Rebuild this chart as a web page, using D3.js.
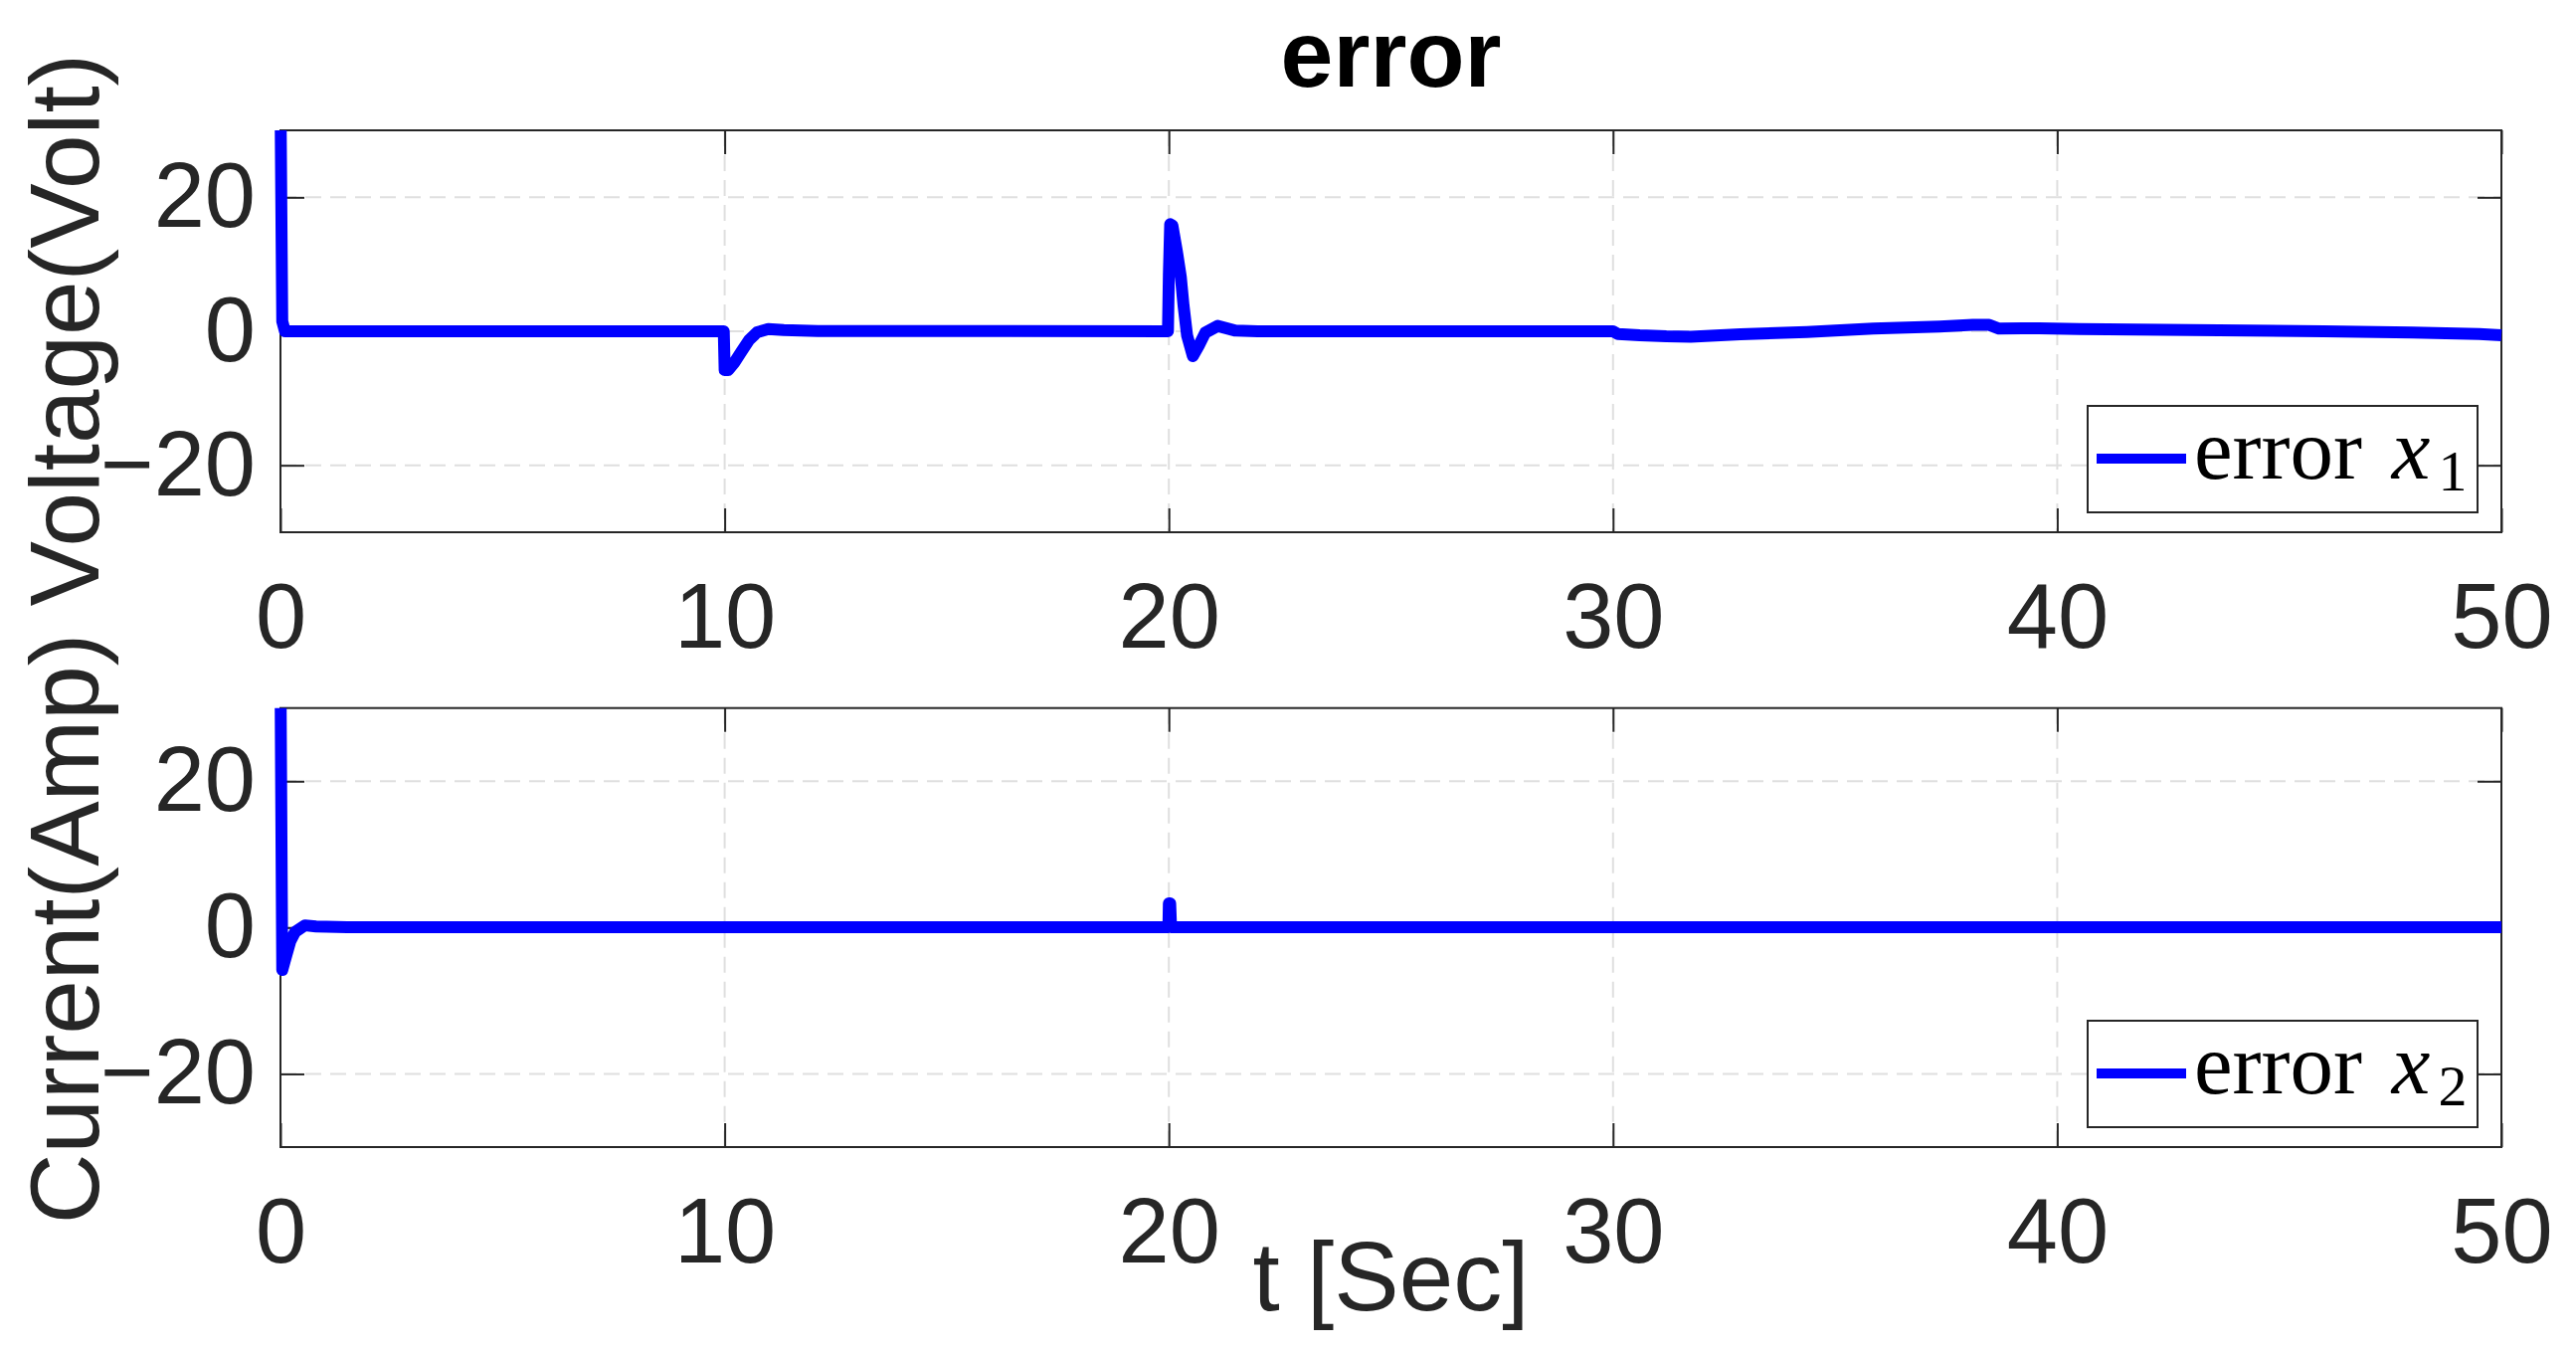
<!DOCTYPE html>
<html>
<head>
<meta charset="utf-8">
<script src="https://cdn.jsdelivr.net/npm/d3@7"></script>
<style>
  body { margin: 0; background: #fff; }
  svg { display: block; }
</style>
</head>
<body>
<div id="chart"></div>
<script>
const w = 2590;
const h = 1361;

// tick values
const xTicks = [0, 10, 20, 30, 40, 50];
const yTicks = [-20, 0, 20];

// error x1 (Volt)
const timeX1 = [0, 0.04, 0.1, 9.98, 10.0, 10.08, 10.21, 10.38, 10.55, 10.73, 10.98, 11.33, 12.1,
  19.98, 20.0, 20.03, 20.08, 20.18, 20.27, 20.33, 20.41, 20.54, 20.67, 20.82, 21.1, 21.5, 22,
  30, 30.11, 30.6, 31.2, 31.75, 32.87, 34.36, 35.86, 37.35, 38.1, 38.47, 38.69, 39.59,
  40.5, 43, 46, 48, 49.5, 50];
const errorX1 = [35, 1.5, 0, 0, -5.8, -5.8, -4.75, -3.0, -1.3, -0.15, 0.35, 0.2, 0.05,
  0, 8.4, 16.0, 15.8, 12.0, 8.1, 3.9, -0.6, -3.7, -2.2, -0.2, 0.8, 0.1, 0,
  0, -0.4, -0.6, -0.75, -0.8, -0.45, -0.1, 0.4, 0.7, 0.95, 0.95, 0.4, 0.45,
  0.35, 0.2, 0, -0.2, -0.4, -0.6];

// error x2 (Amp)
const timeX2 = [0, 0.04, 0.1, 0.22, 0.33, 0.55, 0.8, 1.5, 19.99, 20.0, 20.03, 20.05, 50];
const errorX2 = [35, -5.8, -4.5, -1.9, -0.6, 0.3, 0.15, 0.05, 0.05, 3.3, 3.3, 0.05, 0.05];

const series = [
  {t: timeX1, v: errorX1, sub: '1'},
  {t: timeX2, v: errorX2, sub: '2'}
];

// layout of the two axes
const left = 282, right = 2515;
const panels = [
  {top: 131, bottom: 535},
  {top: 711.7, bottom: 1153}
];

const axisColor = '#262626';
const gridColor = '#dfdfdf';

const svg = d3.select('#chart')
  .append('svg')
  .attr('width', w)
  .attr('height', h)
  .style('background-color', 'white');

const xScale = d3.scaleLinear().domain([0, 50]).range([left, right]);

panels.forEach((p, i) => {
  const s = series[i];
  const yScale = d3.scaleLinear().domain([-30, 30]).range([p.bottom, p.top]);
  const g = svg.append('g');

  // grid
  g.selectAll('.xgrid')
    .data(xTicks)
    .enter()
    .append('line')
    .attr('x1', d => xScale(d))
    .attr('x2', d => xScale(d))
    .attr('y1', p.top)
    .attr('y2', p.bottom)
    .attr('stroke', gridColor)
    .attr('stroke-width', 2)
    .attr('stroke-dasharray', '16,9');
  g.selectAll('.ygrid')
    .data(yTicks)
    .enter()
    .append('line')
    .attr('x1', left)
    .attr('x2', right)
    .attr('y1', d => yScale(d))
    .attr('y2', d => yScale(d))
    .attr('stroke', gridColor)
    .attr('stroke-width', 2)
    .attr('stroke-dasharray', '16,9');

  // axes (ticks inside, box)
  const styleAxis = sel => {
    sel.attr('font-family', null).attr('font-size', null);
    sel.select('.domain').remove();
    sel.selectAll('line').attr('stroke', axisColor).attr('stroke-width', 2);
    sel.selectAll('text')
      .attr('fill', axisColor)
      .style('font-family', '"Liberation Sans", Arial, sans-serif')
      .style('font-size', '92px');
  };
  g.append('g')
    .attr('transform', `translate(0, ${p.bottom})`)
    .call(d3.axisBottom(xScale).tickValues(xTicks).tickSize(-24).tickPadding(51).tickFormat(d3.format('d')))
    .call(styleAxis);
  g.append('g')
    .attr('transform', `translate(0, ${p.top})`)
    .call(d3.axisTop(xScale).tickValues(xTicks).tickSize(-24).tickFormat(''))
    .call(styleAxis);
  g.append('g')
    .attr('transform', `translate(${left}, 0)`)
    .call(d3.axisLeft(yScale).tickValues(yTicks).tickSize(-24).tickPadding(25))
    .call(styleAxis);
  g.append('g')
    .attr('transform', `translate(${right}, 0)`)
    .call(d3.axisRight(yScale).tickValues(yTicks).tickSize(-24).tickFormat(''))
    .call(styleAxis);

  g.append('rect')
    .attr('x', left)
    .attr('y', p.top)
    .attr('width', right - left)
    .attr('height', p.bottom - p.top)
    .attr('fill', 'none')
    .attr('stroke', axisColor)
    .attr('stroke-width', 2);

  // data line
  svg.append('clipPath')
    .attr('id', 'clip' + i)
    .append('rect')
    .attr('x', left - 8)
    .attr('y', p.top)
    .attr('width', right - left + 16)
    .attr('height', p.bottom - p.top);

  const line = d3.line()
    .x(j => xScale(s.t[j]))
    .y(j => yScale(s.v[j]));

  g.append('path')
    .attr('d', line(d3.range(s.t.length)))
    .attr('clip-path', `url(#clip${i})`)
    .attr('fill', 'none')
    .attr('stroke', '#0000ff')
    .attr('stroke-width', 12)
    .attr('stroke-linejoin', 'round');

  // legend
  const lw = 392, lh = 107;
  const legend = g.append('g')
    .attr('transform', `translate(${right - 24 - lw}, ${p.bottom - 20 - lh})`);
  legend.append('rect')
    .attr('width', lw)
    .attr('height', lh)
    .attr('fill', 'white')
    .attr('stroke', axisColor)
    .attr('stroke-width', 2);
  legend.append('line')
    .attr('x1', 9)
    .attr('x2', 99)
    .attr('y1', 53)
    .attr('y2', 53)
    .attr('stroke', '#0000ff')
    .attr('stroke-width', 10);
  const lt = legend.append('text')
    .attr('x', 107)
    .attr('y', 73)
    .attr('fill', 'black')
    .style('font-family', '"Liberation Serif", "Times New Roman", serif')
    .style('font-size', '87px');
  lt.append('tspan').text('error ');
  lt.append('tspan').attr('dx', 8).style('font-style', 'italic').text('x');
  lt.append('tspan').attr('dx', 8).attr('dy', 12).style('font-size', '58px').text(s.sub);
});

// title and labels
svg.append('text')
  .attr('x', (left + right) / 2)
  .attr('y', 87)
  .attr('text-anchor', 'middle')
  .attr('fill', 'black')
  .style('font-family', '"Liberation Sans", Arial, sans-serif')
  .style('font-weight', 'bold')
  .style('font-size', '95px')
  .text('error');

svg.append('text')
  .attr('transform', `translate(99, ${(panels[0].top + panels[1].bottom) / 2}) rotate(-90)`)
  .attr('text-anchor', 'middle')
  .attr('fill', axisColor)
  .style('font-family', '"Liberation Sans", Arial, sans-serif')
  .style('font-size', '98px')
  .text('Current(Amp) Voltage(Volt)');

svg.append('text')
  .attr('x', (left + right) / 2)
  .attr('y', 1317)
  .attr('text-anchor', 'middle')
  .attr('fill', axisColor)
  .style('font-family', '"Liberation Sans", Arial, sans-serif')
  .style('font-size', '98px')
  .text('t [Sec]');
</script>
</body>
</html>
